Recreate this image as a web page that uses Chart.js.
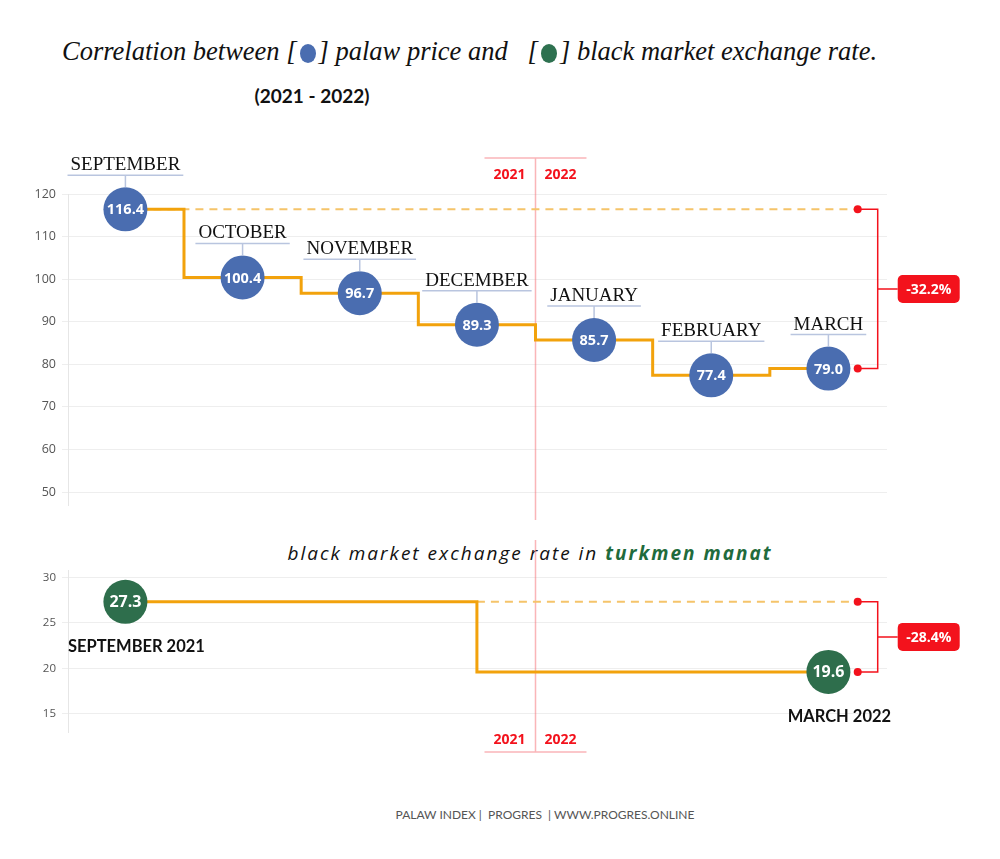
<!DOCTYPE html>
<html>
<head>
<meta charset="utf-8">
<script src="https://cdn.jsdelivr.net/npm/chart.js@4.4.1/dist/chart.umd.min.js"></script>
<style>
  body { margin: 0; background: #fff; }
  #page { position: relative; width: 1000px; height: 859px; overflow: hidden; font-family: Lato, sans-serif; }
  .abs { position: absolute; }
  #title { left: 62px; top: 33px; font-family: 'Liberation Serif', serif; font-style: italic; font-size: 26.5px; color: #111; white-space: nowrap; line-height: 36px; }
  .dot { display: inline-block; width: 16px; height: 19px; border-radius: 50%; vertical-align: -3px; margin: 0 3px; }
  #years { left: 212px; width: 200px; top: 84px; text-align: center; font-weight: bold; font-size: 19px; color: #111; }
  #sub { left: 230px; width: 600px; top: 540px; text-align: center; font-family: 'Open Sans', sans-serif; font-style: italic; font-size: 19px; letter-spacing: 2px; color: #111; }
  #sub b { color: #1f6b3c; }
  #foot { left: 345px; width: 400px; top: 807px; text-align: center; font-size: 12px; color: #555; }
  #top { left: 0; top: 140px; width: 1000px; height: 380px; }
  #bottom { left: 0; top: 540px; width: 1000px; height: 220px; }
</style>
</head>
<body>
<div id="page">
  <div id="title" class="abs">Correlation between [<span class="dot" style="background:#4a6db0"></span>] palaw price and &nbsp; [<span class="dot" style="background:#2e7150"></span>] black market exchange rate.</div>
  <div id="years" class="abs">(2021 - 2022)</div>
  <div id="top" class="abs"><canvas id="priceChart"></canvas></div>
  <div id="sub" class="abs">black market exchange rate in <b>turkmen manat</b></div>
  <div id="bottom" class="abs"><canvas id="rateChart"></canvas></div>
  <div id="foot" class="abs">PALAW INDEX |&nbsp; PROGRES &nbsp;| WWW.PROGRES.ONLINE</div>
</div>
<script>
// palaw price by month
const months = ['SEPTEMBER', 'OCTOBER', 'NOVEMBER', 'DECEMBER', 'JANUARY', 'FEBRUARY', 'MARCH'];
const palawPrice = [116.4, 100.4, 96.7, 89.3, 85.7, 77.4, 79.0];
const priceTicks = [50, 60, 70, 80, 90, 100, 110, 120];
const priceChange = '-32.2%';

// black market rate (month index of each change)
const rateLabels = ['SEPTEMBER 2021', 'MARCH 2022'];
const rateMonthIdx = [0, 3, 6];
const rateSteps = [27.3, 19.6, 19.6];
const rateTicks = [15, 20, 25, 30];
const rateChange = '-28.4%';

const yearSplit = 3.5; // between DECEMBER and JANUARY
const yearLabels = ['2021', '2022'];

const BLUE = '#4a6db0', GREEN = '#2e6e4c', ORANGE = '#f2a20c', RED = '#f3121c';
const lastIdx = months.length - 1;

function yearMarker(chart, lineTop, lineBottom, barY, labelY) {
  const ctx = chart.ctx;
  const x = chart.scales.x.getPixelForValue(yearSplit);
  ctx.save();
  ctx.strokeStyle = 'rgba(246,120,125,0.55)';
  ctx.lineWidth = 1.5;
  ctx.beginPath();
  ctx.moveTo(x, lineTop); ctx.lineTo(x, lineBottom);
  ctx.moveTo(x - 51, barY); ctx.lineTo(x + 51, barY);
  ctx.stroke();
  ctx.fillStyle = RED;
  ctx.font = 'bold 14px "Open Sans"';
  ctx.textBaseline = 'middle';
  ctx.textAlign = 'center';
  ctx.fillText(yearLabels[0], x - 26, labelY);
  ctx.fillText(yearLabels[1], x + 25, labelY);
  ctx.restore();
}

function changeBracket(chart, v1, v2, text) {
  const ctx = chart.ctx;
  const xs = chart.scales.x, ys = chart.scales.y;
  const xd = xs.getPixelForValue(lastIdx + 0.25);
  const xb = xd + 20;
  const y1 = ys.getPixelForValue(v1), y2 = ys.getPixelForValue(v2);
  const ym = (y1 + y2) / 2;
  ctx.save();
  ctx.strokeStyle = RED;
  ctx.lineWidth = 1.5;
  ctx.beginPath();
  ctx.moveTo(xd, y1); ctx.lineTo(xb, y1); ctx.lineTo(xb, y2); ctx.lineTo(xd, y2);
  ctx.moveTo(xb, ym); ctx.lineTo(xb + 20, ym);
  ctx.stroke();
  ctx.fillStyle = RED;
  [y1, y2].forEach(y => { ctx.beginPath(); ctx.arc(xd, y, 4, 0, Math.PI * 2); ctx.fill(); });
  const bx = xb + 20, bw = 62, bh = 28;
  ctx.beginPath();
  ctx.roundRect(bx, ym - bh / 2, bw, bh, 5);
  ctx.fill();
  ctx.fillStyle = '#fff';
  ctx.font = 'bold 14px "Open Sans"';
  ctx.textAlign = 'center';
  ctx.textBaseline = 'middle';
  ctx.fillText(text, bx + bw / 2, ym + 1);
  ctx.restore();
}

function axisOpts(ticks, min, max, size) {
  return {
    x: { type: 'linear', display: false, min: -0.49, max: 6.5 },
    y: {
      min: min, max: max,
      afterBuildTicks: axis => { axis.ticks = ticks.map(v => ({ value: v })); },
      afterFit: axis => { axis.width = 68; },
      grid: { color: '#eeeeee', tickLength: 6 },
      border: { color: '#e6e6e6' },
      ticks: { color: '#555', padding: 6, font: { family: 'Open Sans', size: size } }
    }
  };
}

const pricePlugin = {
  id: 'priceDecor',
  beforeDatasetsDraw(chart) {
    yearMarker(chart, 18, chart.height, 18, 35);
  },
  afterDatasetsDraw(chart) {
    const ctx = chart.ctx;
    const meta = chart.getDatasetMeta(0);
    ctx.save();
    meta.data.forEach((pt, i) => {
      ctx.fillStyle = '#fff';
      ctx.font = 'bold 14.5px "Open Sans"';
      ctx.textAlign = 'center';
      ctx.textBaseline = 'middle';
      ctx.fillText(palawPrice[i].toFixed(1), pt.x, pt.y + 1);

      ctx.font = '19px "Liberation Serif"';
      const w = ctx.measureText(months[i]).width;
      ctx.fillStyle = '#111';
      ctx.textBaseline = 'alphabetic';
      ctx.fillText(months[i], pt.x, pt.y - 39);
      ctx.strokeStyle = '#b9c5df';
      ctx.lineWidth = 1.5;
      ctx.beginPath();
      ctx.moveTo(pt.x - w / 2 - 3, pt.y - 34); ctx.lineTo(pt.x + w / 2 + 3, pt.y - 34);
      ctx.moveTo(pt.x, pt.y - 34); ctx.lineTo(pt.x, pt.y - 22);
      ctx.stroke();
    });
    ctx.restore();
    changeBracket(chart, palawPrice[0], palawPrice[lastIdx], priceChange);
  }
};

const ratePlugin = {
  id: 'rateDecor',
  beforeDatasetsDraw(chart) {
    yearMarker(chart, 0, 212, 212, 200);
  },
  afterDatasetsDraw(chart) {
    const ctx = chart.ctx;
    const meta = chart.getDatasetMeta(0);
    ctx.save();
    meta.data.forEach((pt, i) => {
      ctx.fillStyle = '#fff';
      ctx.font = 'bold 16px "Open Sans"';
      ctx.textAlign = 'center';
      ctx.textBaseline = 'middle';
      ctx.fillText(chart.data.datasets[0].data[i].y.toFixed(1), pt.x, pt.y + 1);
      ctx.fillStyle = '#111';
      ctx.font = 'bold 16.5px Lato';
      ctx.fillText(rateLabels[i], pt.x + 11, pt.y + 45);
    });
    ctx.restore();
    changeBracket(chart, rateSteps[0], rateSteps[rateSteps.length - 1], rateChange);
  }
};

new Chart(document.getElementById('priceChart'), {
  type: 'line',
  data: {
    datasets: [
      {
        data: palawPrice.map((v, i) => ({ x: i, y: v })),
        showLine: false, pointRadius: 22, pointHoverRadius: 22,
        pointBackgroundColor: BLUE, pointBorderWidth: 0, clip: false
      },
      {
        data: palawPrice.map((v, i) => ({ x: i, y: v })),
        stepped: 'middle', borderColor: ORANGE, borderWidth: 3, pointRadius: 0, clip: false
      },
      {
        data: [{ x: 0, y: palawPrice[0] }, { x: lastIdx + 0.25, y: palawPrice[0] }],
        borderColor: '#f5c46a', borderWidth: 2, borderDash: [8, 6], pointRadius: 0
      }
    ]
  },
  options: {
    responsive: true, maintainAspectRatio: false, animation: false,
    layout: { autoPadding: false, padding: { left: 0, right: 113, top: 54, bottom: 15 } },
    plugins: { legend: { display: false }, tooltip: { enabled: false } },
    scales: axisOpts(priceTicks, 46.95, 120, 12.5)
  },
  plugins: [pricePlugin]
});

new Chart(document.getElementById('rateChart'), {
  type: 'line',
  data: {
    datasets: [
      {
        data: [{ x: rateMonthIdx[0], y: rateSteps[0] }, { x: rateMonthIdx[2], y: rateSteps[2] }],
        showLine: false, pointRadius: 22, pointHoverRadius: 22,
        pointBackgroundColor: GREEN, pointBorderWidth: 0, clip: false
      },
      {
        data: rateMonthIdx.map((m, i) => ({ x: m, y: rateSteps[i] })),
        stepped: true, borderColor: ORANGE, borderWidth: 3, pointRadius: 0, clip: false
      },
      {
        data: [{ x: rateMonthIdx[1], y: rateSteps[0] }, { x: lastIdx + 0.25, y: rateSteps[0] }],
        borderColor: '#f5c46a', borderWidth: 2, borderDash: [8, 6], pointRadius: 0
      }
    ]
  },
  options: {
    responsive: true, maintainAspectRatio: false, animation: false,
    layout: { autoPadding: false, padding: { left: 0, right: 113, top: 30, bottom: 28 } },
    plugins: { legend: { display: false }, tooltip: { enabled: false } },
    scales: axisOpts(rateTicks, 13, 30.8, 11.5)
  },
  plugins: [ratePlugin]
});
</script>
</body>
</html>
